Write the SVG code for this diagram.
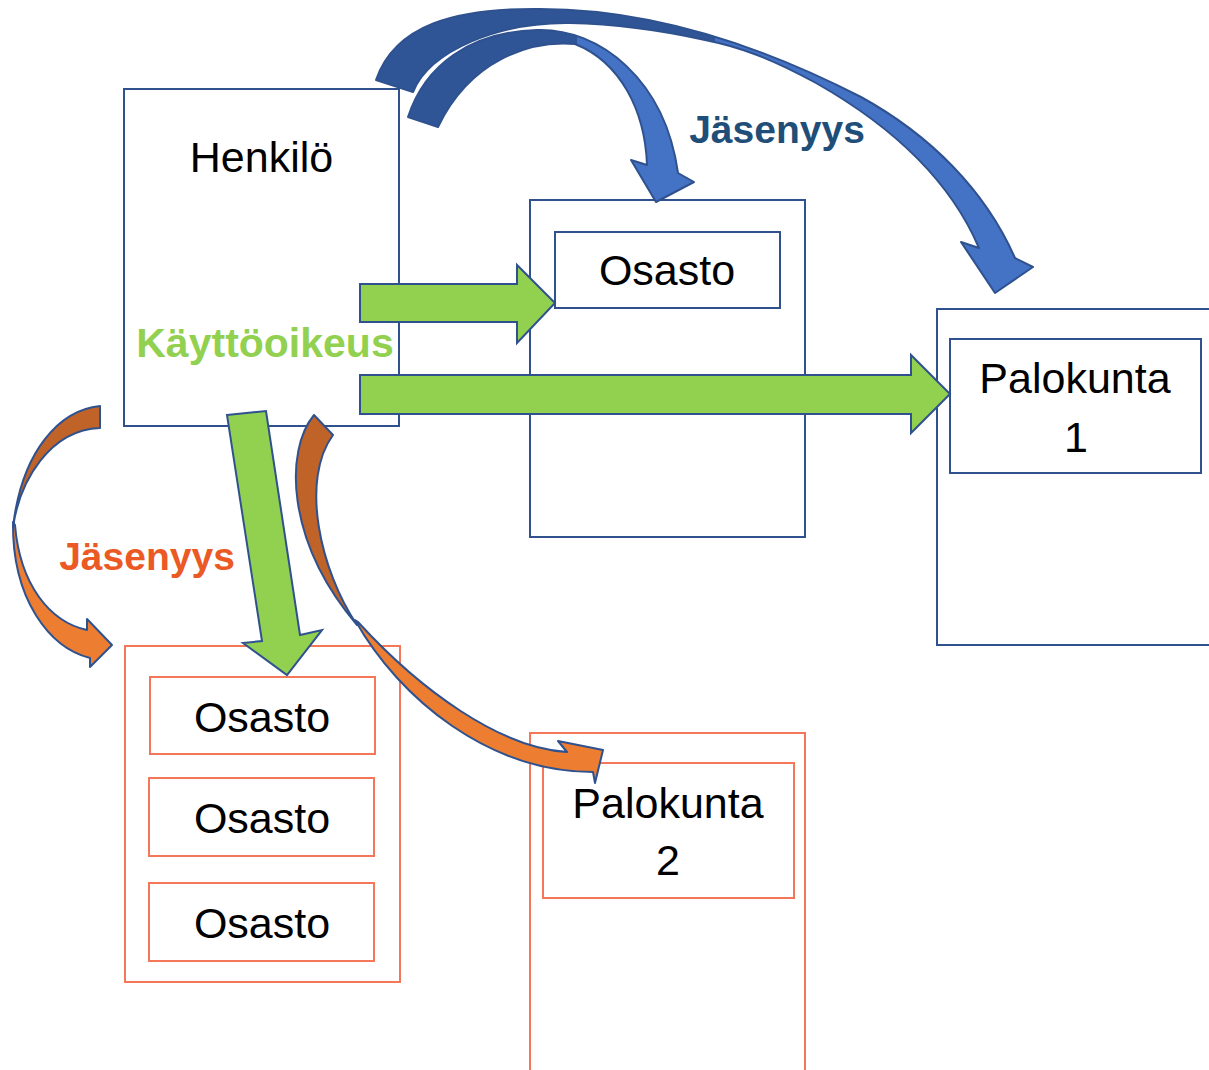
<svg xmlns="http://www.w3.org/2000/svg" width="1209" height="1070" viewBox="0 0 1209 1070">
<style>
.bb{fill:#ffffff;stroke:#2f528f;stroke-width:2}
.ob{fill:#ffffff;stroke:#f4775a;stroke-width:2}
.t{font-family:"Liberation Sans",Arial,sans-serif;font-size:43px;fill:#000000;text-anchor:middle}
.lb{font-family:"Liberation Sans",Arial,sans-serif;font-weight:bold;text-anchor:middle}
.ga{fill:#92d050;stroke:#2f528f;stroke-width:2;stroke-linejoin:miter}
.ca{stroke:#2f528f;stroke-width:2;stroke-linejoin:round}
</style>
<defs>
<linearGradient id="gOuter" gradientUnits="userSpaceOnUse" x1="376" y1="0" x2="1033" y2="0">
<stop offset="0" stop-color="#2f5597"/><stop offset="0.516" stop-color="#2f5597"/><stop offset="0.516" stop-color="#4472c4"/><stop offset="1" stop-color="#4472c4"/>
</linearGradient>
<linearGradient id="gInner" gradientUnits="userSpaceOnUse" x1="408" y1="0" x2="694" y2="0">
<stop offset="0" stop-color="#2f5597"/><stop offset="0.59" stop-color="#2f5597"/><stop offset="0.59" stop-color="#4472c4"/><stop offset="1" stop-color="#4472c4"/>
</linearGradient>
</defs>
<rect width="1209" height="1070" fill="#ffffff"/>

<g id="henkilo">
<rect class="bb" x="124" y="89" width="275" height="337"/>
<text class="t" x="261.5" y="172">Henkilö</text>
<text class="lb" x="265" y="357" font-size="41" fill="#92d050">Käyttöoikeus</text>
</g>

<g id="osasto-mid">
<rect class="bb" x="530" y="200" width="275" height="337"/>
<rect class="bb" x="555" y="232" width="225" height="76"/>
<text class="t" x="667" y="285">Osasto</text>
</g>

<g id="palokunta1">
<rect class="bb" x="937" y="309" width="280" height="336"/>
<rect class="bb" x="950" y="339" width="251" height="134"/>
<text class="t" x="1075" y="393">Palokunta</text>
<text class="t" x="1076" y="452">1</text>
</g>

<g id="osastot-left">
<rect class="ob" x="125" y="646" width="275" height="336"/>
<rect class="ob" x="150" y="677" width="225" height="77"/>
<rect class="ob" x="149" y="778" width="225" height="78"/>
<rect class="ob" x="149" y="883" width="225" height="78"/>
<text class="t" x="262" y="732">Osasto</text>
<text class="t" x="262" y="833">Osasto</text>
<text class="t" x="262" y="938">Osasto</text>
</g>

<g id="palokunta2">
<rect class="ob" x="530" y="733" width="275" height="345"/>
<rect class="ob" x="543" y="763" width="251" height="135"/>
<text class="t" x="668" y="818">Palokunta</text>
<text class="t" x="668" y="875">2</text>
</g>

<g id="connectors">
<path class="ga" d="M360,284 L517,284 L517,265 L555,303 L517,343 L517,322 L360,322 Z"/>
<path class="ga" d="M360,375 L911,375 L911,355 L950,394 L911,433 L911,414 L360,414 Z"/>
<path class="ga" d="M227,415 L266,411 L300,635 L322,630 L287,675 L243,643 L262,641 Z"/>
<path class="ca" fill="url(#gOuter)" d="M376,80 C395,25 455,8 540,9 C650,9 760,45 861,97 C930,135 985,190 1015,258 L1033,267 L995,293 L961,242 L979,248 C950,180 890,125 816,83 C770,58 740,47 705,40 C660,30 620,24 570,23 C500,22 430,50 413,92 Z"/>
<path class="ca" fill="url(#gInner)" d="M408,117 C425,65 470,32 537,30 C600,28 665,80 678,173 L694,182 L656,202 L631,160 L647,165 C645,110 620,62 575,44 C530,40 470,60 438,127 Z"/>
<path class="ca" fill="#bf6328" d="M100,406 C60,410 22,450 13,527 C20,480 50,430 100,428 Z"/>
<path class="ca" fill="#ed7d31" d="M13,522 C12,600 50,648 90,658 L90,667 L112,645 L87,619 L87,630 C50,622 20,585 15,525 Z"/>
<path class="ca" fill="#bf6328" d="M314,415 C285,450 285,540 357,625 C320,570 300,480 333,435 Z"/>
<path class="ca" fill="#ed7d31" d="M355,620 C400,700 490,772 593,772 L595,783 L603,750 L558,741 L567,752 C500,748 420,690 358,622 Z"/>
</g>

<g id="labels">
<text class="lb" x="777" y="143" font-size="39" fill="#1f4e79">Jäsenyys</text>
<text class="lb" x="147" y="570" font-size="39" fill="#eb5a24">Jäsenyys</text>
</g>
</svg>
